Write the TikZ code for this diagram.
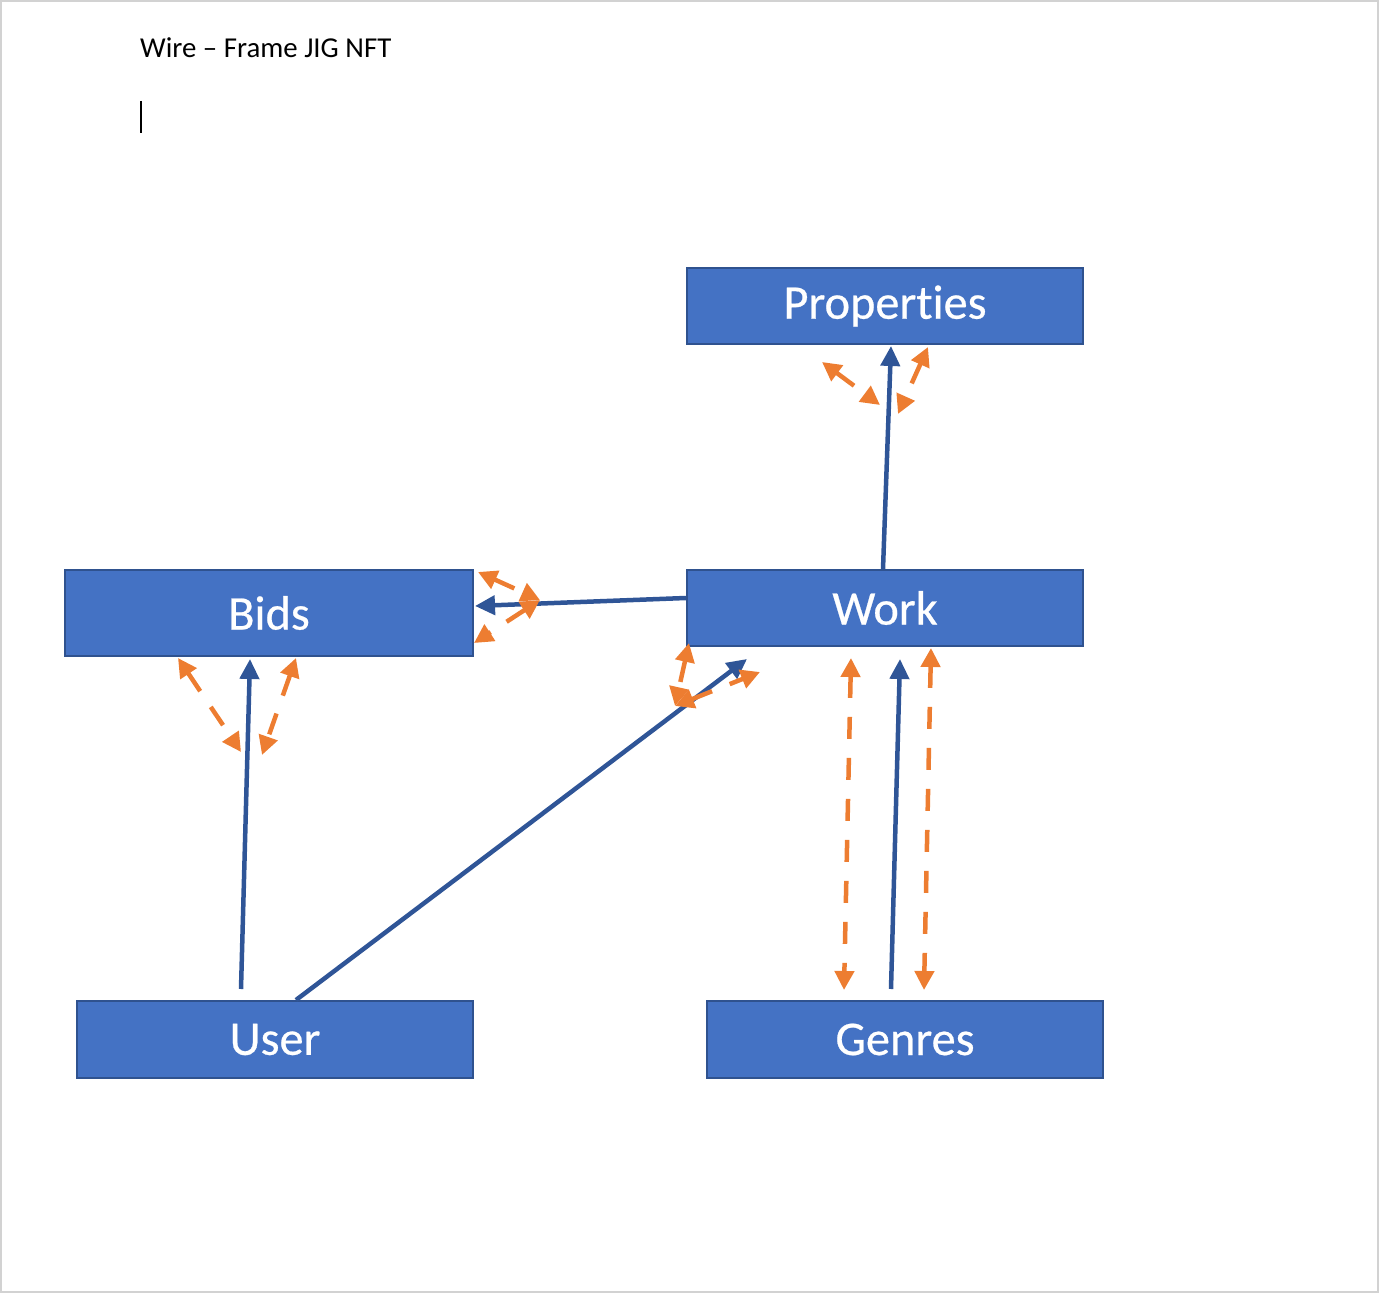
\documentclass[tikz,border=0pt]{standalone}
\usepackage{fontspec}
\setmainfont{Carlito}[Ligatures=NoCommon]
\newfontfamily\boxfont{Carlito}[Ligatures=NoCommon,FakeBold=0.5]
\usetikzlibrary{arrows.meta,calc}
\definecolor{boxblue}{HTML}{4472C4}
\definecolor{boxedge}{HTML}{2F528F}
\definecolor{linkblue}{HTML}{2F5597}
\definecolor{linkorange}{HTML}{ED7D31}
\tikzset{
  entity/.style={draw=boxedge,line width=.4mm,fill=boxblue,text=white,minimum width=79.2mm,minimum height=15.2mm,inner sep=0pt,font=\boxfont\fontsize{27.5}{30}\selectfont},
  link/.style={draw=linkblue,line width=.9mm,-{Triangle[length=4mm,width=3.8mm]}},
  flow/.style={draw=linkorange,line width=.9mm,dash pattern=on 4.4mm off 3.8mm,{Triangle[length=3.8mm,width=3.8mm]}-{Triangle[length=3.8mm,width=3.8mm]}}
}
\begin{document}
\begin{tikzpicture}[x=.2mm,y=-.2mm]
\useasboundingbox (0,0) rectangle (1380,1294);
\draw[gray!35,line width=.5mm] (1,1) rectangle (1378,1292);
\node[anchor=west,font=\fontsize{16.4}{18}\selectfont] (title) at (134,48) {Wire – Frame JIG NFT};
\draw[line width=.35mm] (141,101) -- (141,133);
% entities
\node[entity] (properties) at (885,306) {Properties};
\node[entity,minimum width=81.6mm,minimum height=17.2mm] (bids) at (269,613) {Bids};
\node[entity] (work) at (885,608) {Work};
\node[entity,minimum height=15.4mm] (user) at (275,1039.5) {User};
\node[entity,minimum height=15.4mm] (genres) at (905,1039.5) {Genres};
% solid links
\draw[link] ($(work.north)+(-2,0)$) -- ($(properties.south)+(6,1)$);
\draw[link] ($(work.west)+(0,-10)$) -- ($(bids.east)+(1,-7)$);
\draw[link] ($(user.north)+(-34,-11)$) -- ($(bids.south)+(-19,2)$);
\draw[link] ($(user.north)+(21,0)$) -- ($(work.south)+(-138,12)$);
\draw[link] ($(genres.north)+(-14,-11)$) -- ($(work.south)+(15,12)$);
% dashed flows
\coordinate (p1) at (822,362); \coordinate (p2) at (880,405);
\coordinate (p3) at (928,347); \coordinate (p4) at (898,414);
\coordinate (b1) at (478,572); \coordinate (b2) at (540,600); \coordinate (b3) at (474,643);
\coordinate (u1) at (178,658); \coordinate (u2) at (241,752);
\coordinate (u3) at (296,658); \coordinate (u4) at (262,755);
\coordinate (w1) at (689,643); \coordinate (w2) at (675,706); \coordinate (w3) at (760,672);
\coordinate (g1) at (851,658); \coordinate (g2) at (844,990);
\coordinate (g3) at (931,648); \coordinate (g4) at (924,990);
\draw[flow] (p1) -- (p2);
\draw[flow] (p3) -- (p4);
\draw[flow] (b1) -- (b2);
\draw[flow] (b2) -- (b3);
\draw[flow] (u1) -- (u2);
\draw[flow] (u3) -- (u4);
\draw[flow] (w1) -- (w2);
\draw[flow] (w2) -- (w3);
\draw[flow] (g1) -- (g2);
\draw[flow] (g3) -- (g4);
\end{tikzpicture}
\end{document}
